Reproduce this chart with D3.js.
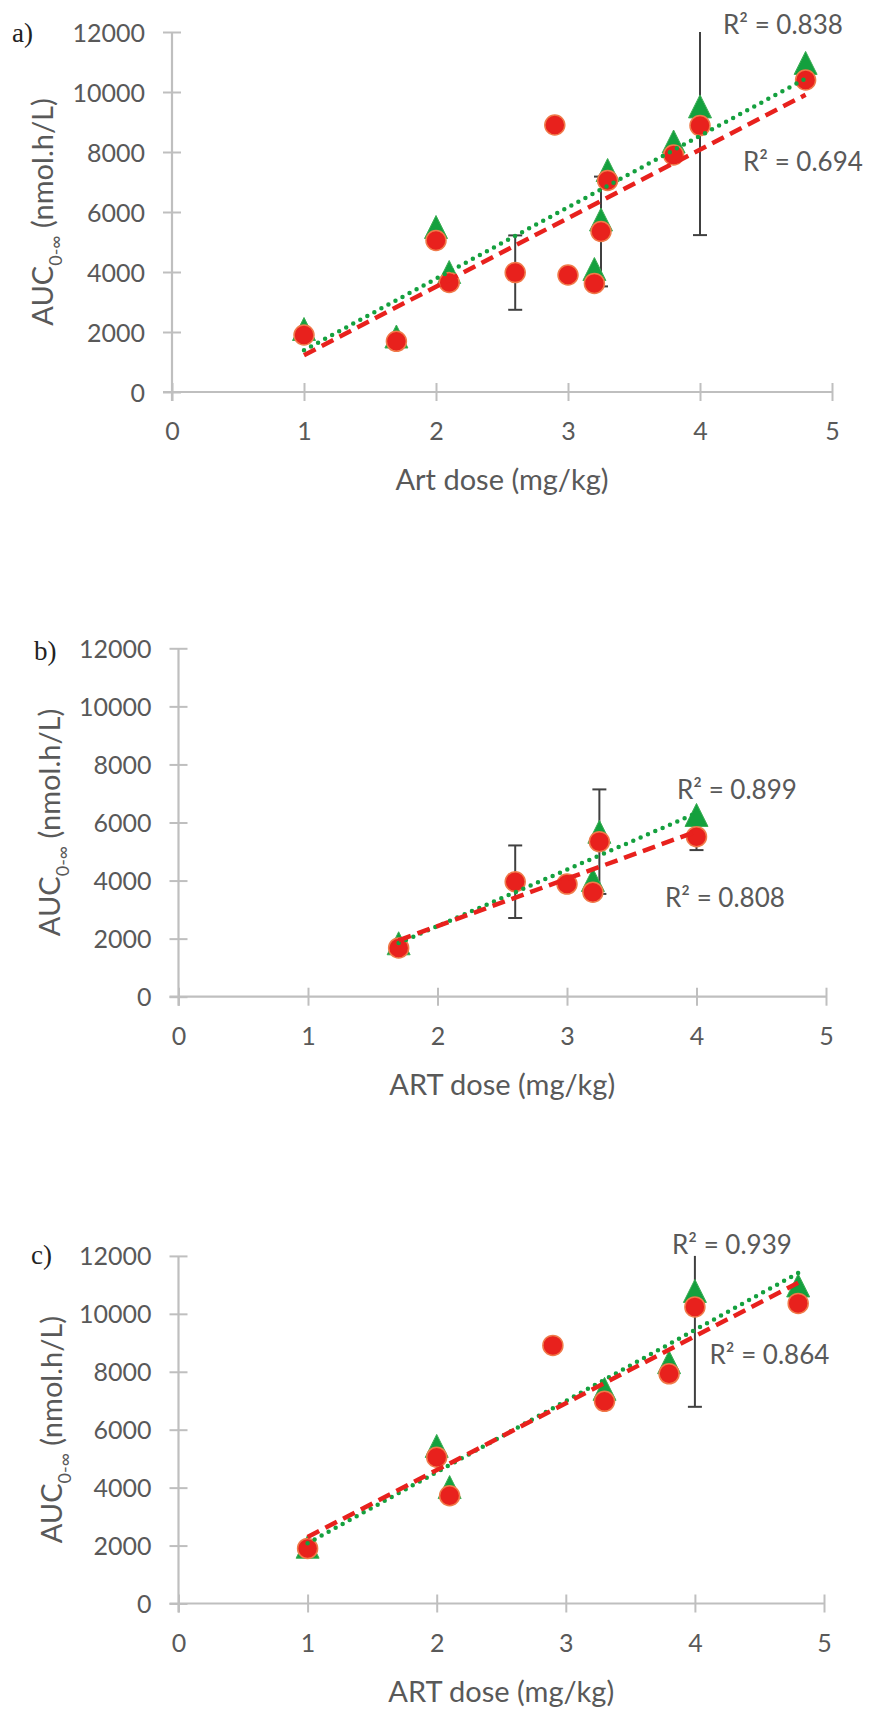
<!DOCTYPE html>
<html><head><meta charset="utf-8">
<script src="https://cdn.jsdelivr.net/npm/d3@7/dist/d3.min.js"></script>
<style>
html,body{margin:0;padding:0;background:#fff;}
svg{display:block;}
</style></head>
<body>
<svg id="chart" width="869" height="1709"></svg>
<script>
// ---------------- data ----------------
const panelLabels = ["a)", "b)", "c)"];
const xTitles = ["Art dose (mg/kg)", "ART dose (mg/kg)", "ART dose (mg/kg)"];
const xTicks = [0, 1, 2, 3, 4, 5];
const yTicks = [0, 2000, 4000, 6000, 8000, 10000, 12000];

const doseA  = [1, 1.7, 2, 2.1, 2.6, 2.9, 3.0, 3.2, 3.25, 3.3, 3.8, 4.0, 4.8];
const redA   = [1900, 1690, 5050, 3650, 3980, 8900, 3900, 3620, 5350, 7050, 7900, 8880, 10400];
const greenA = [2100, 1850, 5500, 4000, null, null, null, 4100, 5750, 7400, 8350, 9520, 10970];
const errA   = [null, null, null, null, 1240, null, null, null, 1830, null, null, 3650, null];

const doseB  = [1.7, 2.6, 3.0, 3.2, 3.25, 4.0];
const redB   = [1680, 3960, 3880, 3600, 5340, 5510];
const greenB = [1840, null, null, 4020, 5680, 6260];
const errB   = [null, 1250, null, null, 1800, 460];

const doseC  = [1, 2, 2.1, 2.9, 3.3, 3.8, 4.0, 4.8];
const redC   = [1900, 5050, 3720, 8910, 6980, 7930, 10240, 10360];
const greenC = [1960, 5440, 4020, null, 7410, 8330, 10790, 10980];
const errC   = [null, null, null, null, null, null, 3450, null];

const r2Green = ["0.838", "0.899", "0.939"];
const r2Red   = ["0.694", "0.808", "0.864"];

// ---------------- layout ----------------
const layout = [
  {x0:172, x1:832, yb:392, yt:32, lab:[12,42], yTitleX:43,
   g:[723,25], r:[743,162]},
  {x0:178.5, x1:826, yb:996.7, yt:648.3, lab:[34,660], yTitleX:50,
   g:[677,790], r:[665,898]},
  {x0:178.5, x1:824, yb:1603.5, yt:1255.9, lab:[31,1264], yTitleX:52,
   g:[672,1244.5], r:[709.5,1355]}
];
const sets = [
  {dose:doseA, red:redA, green:greenA, err:errA},
  {dose:doseB, red:redB, green:greenB, err:errB},
  {dose:doseC, red:redC, green:greenC, err:errC}
];

const RED = "#e8211d", GREEN = "#14a03e", AXIS = "#bfbfbf", TXT = "#595959";
const FONT = "Lato, 'Open Sans', sans-serif";

const svg = d3.select("#chart");

// custom triangle centered on its bounding box
const tri = {
  draw(ctx, size) {
    const s = Math.sqrt(size);
    ctx.moveTo(0, -s/2);
    ctx.lineTo(s/2, s/2);
    ctx.lineTo(-s/2, s/2);
    ctx.closePath();
  }
};

function fit(xs, ys) {
  const pts = xs.map((x,i)=>[x, ys[i]]).filter(p=>p[1]!=null);
  const mx = d3.mean(pts, p=>p[0]), my = d3.mean(pts, p=>p[1]);
  let sxy=0, sxx=0;
  pts.forEach(p=>{sxy+=(p[0]-mx)*(p[1]-my); sxx+=(p[0]-mx)**2;});
  const b = sxy/sxx, a = my - b*mx;
  const [lo, hi] = d3.extent(pts, p=>p[0]);
  return [[lo, a+b*lo],[hi, a+b*hi]];
}

layout.forEach((L, k) => {
  const D = sets[k];
  const x = d3.scaleLinear().domain([0,5]).range([L.x0, L.x1]);
  const y = d3.scaleLinear().domain([0,12000]).range([L.yb, L.yt]);
  const g = svg.append("g");

  // y axis
  const ya = g.append("g").attr("transform",`translate(${L.x0},0)`)
    .call(d3.axisLeft(y).tickValues(yTicks).tickSize(9).tickPadding(0).tickFormat(d3.format("d")));
  ya.select(".domain").attr("stroke",AXIS).attr("stroke-width",2.2)
    .attr("d", `M0,${L.yb+9}V${L.yt}`);
  ya.selectAll(".tick line").attr("stroke",AXIS).attr("stroke-width",2).attr("x1",9).attr("x2",-9);
  ya.selectAll(".tick text").attr("fill",TXT).attr("font-family",FONT).attr("font-size",25)
    .attr("x",-27).attr("dy","0.36em");

  // x axis
  const xa = g.append("g").attr("transform",`translate(0,${L.yb})`)
    .call(d3.axisBottom(x).tickValues(xTicks).tickSize(9).tickPadding(0).tickFormat(d3.format("d")));
  xa.select(".domain").attr("stroke",AXIS).attr("stroke-width",2.2)
    .attr("d", `M${L.x0-9},0H${L.x1}`);
  xa.selectAll(".tick line").attr("stroke",AXIS).attr("stroke-width",2).attr("y1",-9).attr("y2",9);
  xa.selectAll(".tick text").attr("fill",TXT).attr("font-family",FONT).attr("font-size",25)
    .attr("y",39).attr("dy","0.36em");

  // titles
  g.append("text").attr("x",(L.x0+L.x1)/2).attr("y",L.yb+88).attr("dy","0.36em")
    .attr("text-anchor","middle").attr("fill",TXT).attr("font-family",FONT).attr("font-size",29)
    .text(xTitles[k]);
  const yt = g.append("text")
    .attr("transform",`translate(${L.yTitleX},${(L.yb+L.yt)/2}) rotate(-90)`)
    .attr("text-anchor","middle").attr("dy","0.36em")
    .attr("fill",TXT).attr("font-family",FONT).attr("font-size",29);
  yt.append("tspan").text("AUC");
  yt.append("tspan").attr("font-size",18).attr("dy","0.45em").text("0-∞");
  yt.append("tspan").attr("dy","-0.28em").text(" (nmol.h/L)");

  g.append("text").attr("x",L.lab[0]).attr("y",L.lab[1])
    .attr("font-family","'Liberation Serif', 'DejaVu Serif', serif").attr("font-size",27)
    .attr("fill","#222").text(panelLabels[k]);

  // error bars (red series)
  const eb = g.append("g").attr("stroke","#404040").attr("stroke-width",2);
  D.dose.forEach((d,i)=>{
    const e = D.err[i];
    if (e==null) return;
    const lo = Math.max(0, D.red[i]-e), hi = Math.min(12000, D.red[i]+e);
    eb.append("line").attr("x1",x(d)).attr("x2",x(d)).attr("y1",y(lo)).attr("y2",y(hi));
    if (D.red[i]-e >= 0) eb.append("line").attr("x1",x(d)-7).attr("x2",x(d)+7).attr("y1",y(lo)).attr("y2",y(lo));
    if (D.red[i]+e <= 12000) eb.append("line").attr("x1",x(d)-7).attr("x2",x(d)+7).attr("y1",y(hi)).attr("y2",y(hi));
  });

  // green triangles
  g.append("g").selectAll("path")
    .data(D.dose.map((d,i)=>[d, D.green[i]]).filter(p=>p[1]!=null))
    .join("path")
    .attr("transform",p=>`translate(${x(p[0])},${y(p[1])})`)
    .attr("d", d3.symbol(tri, 23*23)())
    .attr("fill",GREEN).attr("stroke","#3cae55").attr("stroke-width",1);

  // red circles
  g.append("g").selectAll("circle")
    .data(D.dose.map((d,i)=>[d, D.red[i]]))
    .join("circle")
    .attr("cx",p=>x(p[0])).attr("cy",p=>y(p[1])).attr("r",10)
    .attr("fill",RED).attr("stroke","#f07a4a").attr("stroke-width",1.5);

  // trend lines
  const line = d3.line().x(p=>x(p[0])).y(p=>y(p[1]));
  g.append("path").attr("d", line(fit(D.dose, D.green)))
    .attr("fill","none").attr("stroke",GREEN).attr("stroke-width",4.5)
    .attr("stroke-linecap","round").attr("stroke-dasharray","0,8");
  g.append("path").attr("d", line(fit(D.dose, D.red)))
    .attr("fill","none").attr("stroke",RED).attr("stroke-width",4.5)
    .attr("stroke-dasharray","13,7");

  // R² labels
  [[L.g, r2Green[k]], [L.r, r2Red[k]]].forEach(([pos, v])=>{
    g.append("text").attr("x",pos[0]).attr("y",pos[1]).attr("dy","0.36em")
      .attr("fill",TXT).attr("font-family",FONT).attr("font-size",26)
      .text(`R² = ${v}`);
  });
});
</script>
</body></html>
